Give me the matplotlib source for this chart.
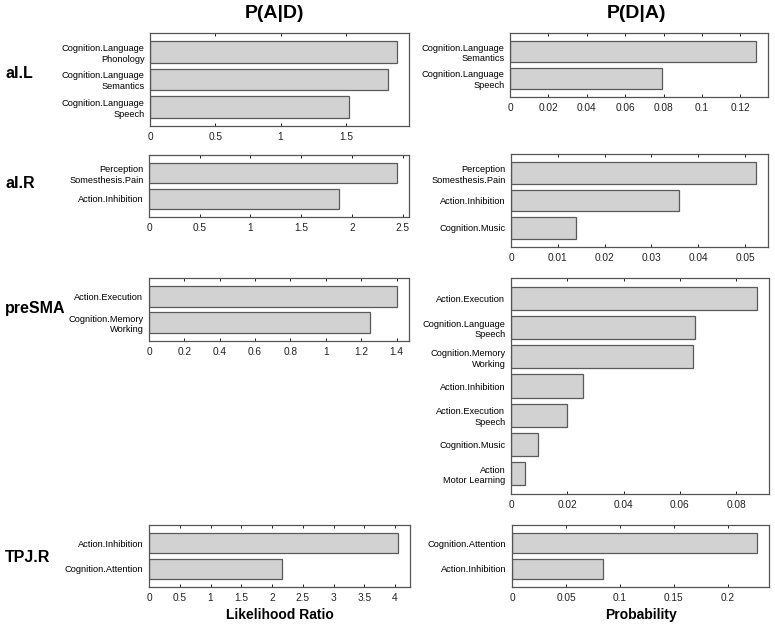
import numpy as np
import matplotlib
matplotlib.use("Agg")
import matplotlib.pyplot as plt

plt.rcParams['font.family'] = ['Liberation Sans Narrow', 'Liberation Sans', 'DejaVu Sans']

#####
# data (bars listed top to bottom)
#####

regions = ["aI.L", "aI.R", "preSMA", "TPJ.R"]

# P(A|D) : likelihood ratio
ail_lr_labels = ["Cognition.Language\nPhonology", "Cognition.Language\nSemantics", "Cognition.Language\nSpeech"]
ail_lr_vals = [1.89, 1.82, 1.525]
air_lr_labels = ["Perception\nSomesthesis.Pain", "Action.Inhibition"]
air_lr_vals = [2.44, 1.87]
presma_lr_labels = ["Action.Execution", "Cognition.Memory\nWorking"]
presma_lr_vals = [1.40, 1.25]
tpjr_lr_labels = ["Action.Inhibition", "Cognition.Attention"]
tpjr_lr_vals = [4.04, 2.16]

# P(D|A) : probability
ail_p_labels = ["Cognition.Language\nSemantics", "Cognition.Language\nSpeech"]
ail_p_vals = [0.128, 0.079]
air_p_labels = ["Perception\nSomesthesis.Pain", "Action.Inhibition", "Cognition.Music"]
air_p_vals = [0.0523, 0.0358, 0.0139]
presma_p_labels = ["Action.Execution", "Cognition.Language\nSpeech", "Cognition.Memory\nWorking",
	"Action.Inhibition", "Action.Execution\nSpeech", "Cognition.Music", "Action\nMotor Learning"]
presma_p_vals = [0.0873, 0.0655, 0.0645, 0.0255, 0.0198, 0.0096, 0.0049]
tpjr_p_labels = ["Cognition.Attention", "Action.Inhibition"]
tpjr_p_vals = [0.2268, 0.0846]

lr_ticks = [np.arange(0, 1.6, 0.5), np.arange(0, 2.6, 0.5), np.arange(0, 1.5, 0.2), np.arange(0, 4.1, 0.5)]
p_ticks = [np.arange(0, 0.13, 0.02), np.arange(0, 0.051, 0.01), np.arange(0, 0.09, 0.02), np.arange(0, 0.21, 0.05)]

W, H = 775.0, 624.0

# panel boxes in pixels: left, top, right, bottom
left_boxes = [(150, 33, 409, 126), (149, 155, 409, 217), (149, 278, 409, 341), (149, 525, 410, 587)]
right_boxes = [(510, 33, 768, 97), (511, 154, 768, 247), (511, 278, 769, 494), (512, 525, 769, 587)]
label_y = [73, 183, 309, 557]

bold_font = ['Liberation Sans', 'DejaVu Sans']


def fmt(v):
	s = "%g" % round(v, 4)
	return s


#####
# draw_panel
# one MATLAB-ish barh box
#####

def draw_panel(fig, box, labels, vals, ticks):
	l, t, r, b = box
	ax = fig.add_axes([l / W, 1 - b / H, (r - l) / W, (b - t) / H])
	n = len(vals)
	pos = np.arange(n, 0, -1)
	ax.barh(pos, vals, height=0.8, color='#d2d2d2', edgecolor='#5a5a5a', linewidth=0.9)
	ax.set_ylim(0.3, n + 0.7)
	ax.set_xlim(0, max(vals) * 1.05)
	ax.set_yticks(pos)
	ax.set_yticklabels(labels, fontsize=6.7, linespacing=1.25)
	ax.set_xticks(ticks)
	ax.set_xticklabels([fmt(v) for v in ticks], fontsize=7.3)
	ax.tick_params(axis='x', direction='in', length=2.5, width=0.7, top=True, pad=4, colors='#222222')
	ax.tick_params(axis='y', length=0, pad=4)
	for sp in ax.spines.values():
		sp.set_color('#555555')
		sp.set_linewidth(0.9)
	return ax


fig = plt.figure(figsize=(W / 100, H / 100), dpi=100)

left_data = [(ail_lr_labels, ail_lr_vals), (air_lr_labels, air_lr_vals),
	(presma_lr_labels, presma_lr_vals), (tpjr_lr_labels, tpjr_lr_vals)]
right_data = [(ail_p_labels, ail_p_vals), (air_p_labels, air_p_vals),
	(presma_p_labels, presma_p_vals), (tpjr_p_labels, tpjr_p_vals)]

for i in range(4):
	axl = draw_panel(fig, left_boxes[i], left_data[i][0], left_data[i][1], lr_ticks[i])
	axr = draw_panel(fig, right_boxes[i], right_data[i][0], right_data[i][1], p_ticks[i])
	fig.text(5 / W, 1 - label_y[i] / H, regions[i], fontsize=11.5, fontweight='bold', ha='left', va='center',
		family=bold_font)

axl.set_xlabel("Likelihood Ratio", fontsize=10, fontweight='bold', labelpad=4, family=bold_font)
axr.set_xlabel("Probability", fontsize=10, fontweight='bold', labelpad=4, family=bold_font)

fig.text(275 / W, 1 - 14 / H, "P(A|D)", fontsize=14, fontweight='bold', ha='center', va='center', family=bold_font)
fig.text(636 / W, 1 - 14 / H, "P(D|A)", fontsize=14, fontweight='bold', ha='center', va='center', family=bold_font)

fig.savefig("out.png", dpi=100)
